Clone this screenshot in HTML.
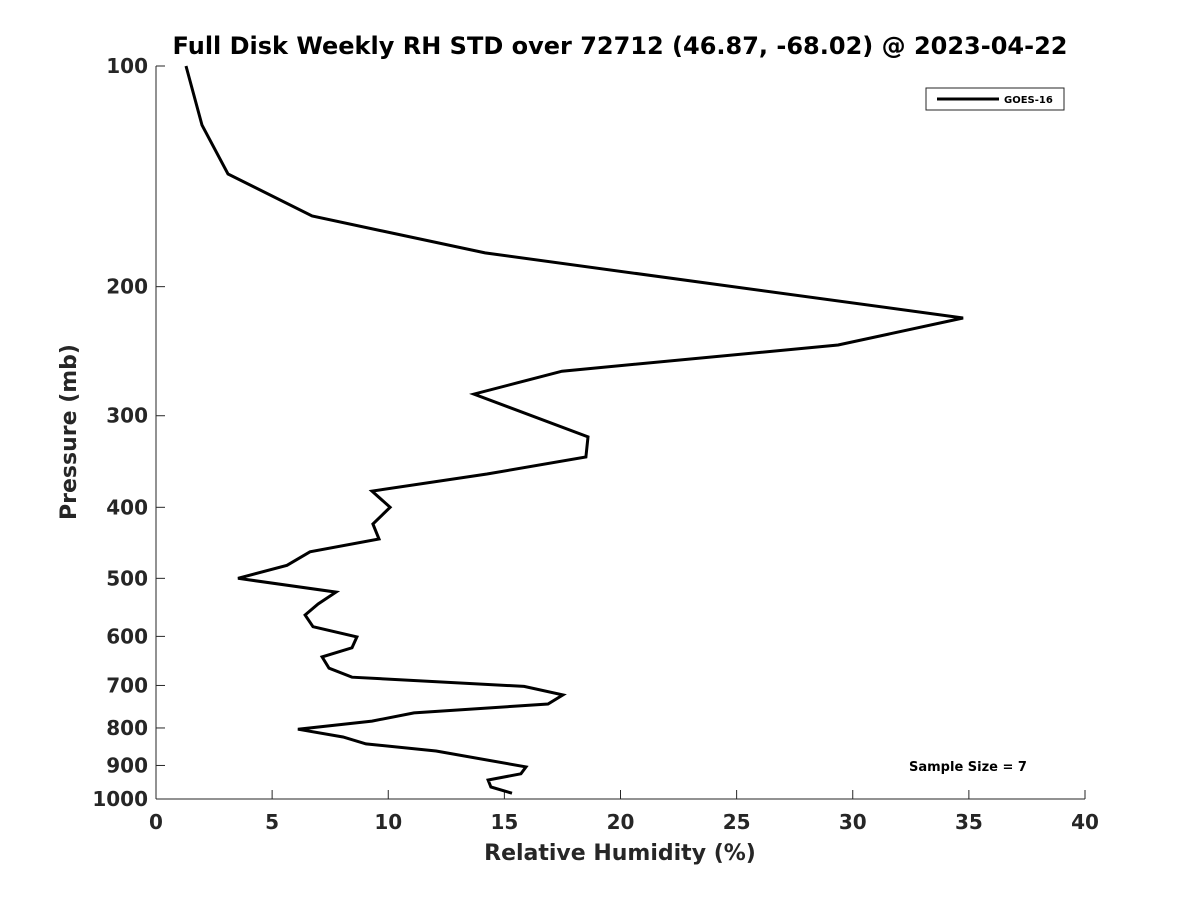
<!DOCTYPE html>
<html><head><meta charset="utf-8"><title>RH STD profile</title>
<style>
html,body{margin:0;padding:0;background:#fff;}
svg{display:block;font-family:"DejaVu Sans","Liberation Sans",sans-serif;}
</style></head>
<body>
<svg id="chart" width="1200" height="900" viewBox="0 0 1200 900"></svg>
<script>
const rhValues=[1.29,1.98,3.10,6.72,14.17,34.75,29.37,17.48,13.69,18.6,18.51,14.25,9.30,10.08,9.34,9.60,6.63,5.64,3.53,7.75,6.98,6.42,6.76,8.65,8.44,7.15,7.45,8.44,15.85,17.52,16.88,11.11,9.30,6.11,8.05,9.04,12.06,15.93,15.71,14.30,14.42,15.33];
const pressureLevels=[100,120.4,140.4,160.2,179.9,220.7,240.2,260.8,280.3,320.6,341.5,360.3,380.1,400,421.5,441.8,460,480,500,522,542,561,582,601,622,640,663,682,702,721,742,763,783,803,823,841,860,904,924,942,963,982];
const xTicks=[0,5,10,15,20,25,30,35,40];
const yTicks=[100,200,300,400,500,600,700,800,900,1000];

const svg=document.getElementById('chart');
const NS='http://www.w3.org/2000/svg';
const L=156,R=1085,T=66,B=799;
const xs=v=>L+(v-0)/(40-0)*(R-L);
const ys=p=>T+(Math.log10(p)-2)/(1)*(B-T);
function mk(tag,attrs){const e=document.createElementNS(NS,tag);for(const k in attrs)e.setAttribute(k,attrs[k]);svg.appendChild(e);return e;}

const xAxis=mk('line',{x1:L,y1:B,x2:R,y2:B,stroke:'#262626','stroke-width':1});


const yAxis=mk('line',{x1:L,y1:T,x2:L,y2:B,stroke:'#262626','stroke-width':1});



xTicks.forEach(v=>{
  const x=xs(v);
  const t=mk('line',{x1:x,y1:B,x2:x,y2:B-9,stroke:'#262626'});
  
  
  const lb=mk('text',{x:x,y:B+30,'text-anchor':'middle','font-size':20,'font-weight':'bold',fill:'#262626'});
  lb.textContent=v;
  
  
});
yTicks.forEach(p=>{
  const y=ys(p);
  const t=mk('line',{x1:L,y1:y,x2:L+9,y2:y,stroke:'#262626'});
  
  
  const lb=mk('text',{x:L-8,y:y+7,'text-anchor':'end','font-size':20,'font-weight':'bold',fill:'#262626'});
  lb.textContent=p;
  
  
});

const pts=rhValues.map((v,i)=>xs(v).toFixed(1)+','+ys(pressureLevels[i]).toFixed(1)).join(' ');
const line=mk('polyline',{points:pts,fill:'none',stroke:'#000','stroke-width':3,'stroke-linejoin':'miter'});



const title=mk('text',{x:620,y:54,'text-anchor':'middle','font-size':24,'font-weight':'bold',fill:'#000'});
title.textContent='Full Disk Weekly RH STD over 72712 (46.87, -68.02) @ 2023-04-22';



const xt=mk('text',{x:620,y:860,'text-anchor':'middle','font-size':22,'font-weight':'bold',fill:'#262626'});
xt.textContent='Relative Humidity (%)';



const yt=mk('text',{x:0,y:0,'text-anchor':'middle','font-size':22,'font-weight':'bold',fill:'#262626',transform:'translate(76,432) rotate(-90)'});
yt.textContent='Pressure (mb)';



const lg=mk('rect',{x:926,y:88,width:138,height:22,fill:'#fff',stroke:'#262626','stroke-width':1});


const ll=mk('line',{x1:937,y1:99,x2:999,y2:99,stroke:'#000','stroke-width':3});


const lt=mk('text',{x:1004,y:103,'font-size':10,'font-weight':'bold',fill:'#000'});
lt.textContent='GOES-16';



const ss=mk('text',{x:968,y:771,'text-anchor':'middle','font-size':13,'font-weight':'bold',fill:'#000'});
ss.textContent='Sample Size = 7';


</script>
</body></html>
